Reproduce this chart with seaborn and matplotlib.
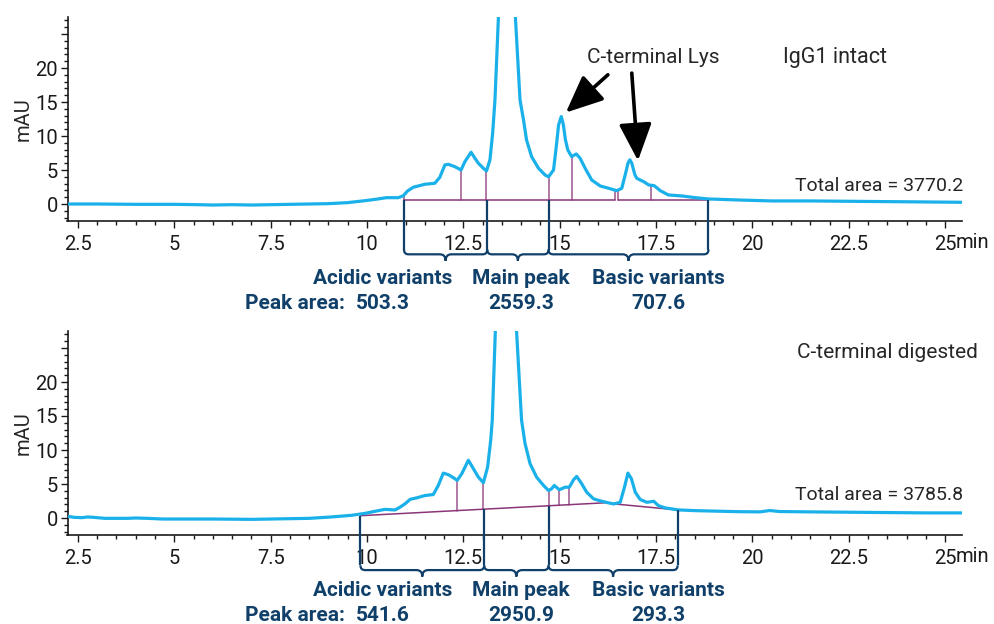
import numpy as np
import pandas as pd
import matplotlib.pyplot as plt
from matplotlib.path import Path
from matplotlib.patches import PathPatch
from matplotlib.ticker import MultipleLocator
import seaborn as sns

# ---- data (time in min, signal in mAU) ----
intact_time = [2.16, 3.0, 4.0, 5.0, 5.6, 6.0, 6.5, 7.0, 7.5, 8.0, 8.5, 9.0, 9.5, 9.95,
               10.3, 10.5, 10.81, 10.94, 11.05, 11.2, 11.33, 11.5, 11.76, 11.89, 12.02,
               12.11, 12.28, 12.44, 12.54, 12.7, 12.8, 12.89, 13.02, 13.1, 13.19, 13.26,
               13.32, 13.41, 13.5, 13.6, 13.7, 13.78, 13.85, 13.97, 14.06, 14.14, 14.27,
               14.45, 14.62, 14.71, 14.84, 14.92, 14.97, 15.04, 15.09, 15.15, 15.21, 15.31,
               15.43, 15.53, 15.66, 15.83, 16.05, 16.27, 16.48, 16.61, 16.72, 16.77, 16.82,
               16.87, 16.95, 17.0, 17.18, 17.31, 17.45, 17.61, 17.82, 18.17, 18.52, 18.86,
               19.64, 20.5, 21.5, 22.5, 23.5, 24.5, 25.45]
intact_mau = [0.0, 0.0, -0.05, -0.05, -0.1, -0.15, -0.1, -0.15, -0.1, -0.05, 0.0, 0.05, 0.2, 0.49,
              0.75, 0.93, 0.93, 1.2, 1.9, 2.46, 2.65, 2.9, 3.05, 3.93, 5.74,
              5.84, 5.49, 5.0, 6.23, 7.61, 6.73, 5.99, 5.25, 4.86, 6.48, 10.4,
              15.3, 27.5, 60.0, 95.0, 80.0, 45.0, 27.5, 15.3, 12.4, 9.4, 6.97,
              5.25, 4.27, 4.0, 5.0, 8.9, 11.6, 12.86, 11.8, 9.4, 7.95, 6.97,
              7.36, 6.72, 5.25, 3.53, 2.65, 2.31, 1.96, 2.31, 4.76, 6.0, 6.5,
              6.0, 4.3, 3.78, 3.28, 2.8, 2.7, 1.96, 1.33, 1.18, 0.93, 0.74,
              0.59, 0.45, 0.45, 0.4, 0.35, 0.3, 0.25]

digest_time = [2.16, 2.4, 2.6, 2.75, 2.9, 3.2, 3.8, 4.0, 4.3, 4.7, 5.2, 6.0, 7.0, 7.5, 8.0,
               8.5, 9.07, 9.59, 9.95, 10.29, 10.47, 10.73, 10.86, 10.99, 11.12, 11.29, 11.5,
               11.72, 11.85, 11.98, 12.11, 12.24, 12.34, 12.46, 12.63, 12.76, 12.89, 13.02,
               13.13, 13.21, 13.25, 13.33, 13.45, 13.6, 13.75, 13.88, 14.01, 14.1, 14.23,
               14.4, 14.58, 14.71, 14.79, 14.86, 14.99, 15.14, 15.25, 15.36, 15.44, 15.57,
               15.7, 15.88, 16.09, 16.27, 16.4, 16.57, 16.68, 16.77, 16.86, 16.96, 17.09,
               17.26, 17.44, 17.56, 17.74, 18.08, 18.52, 19.64, 20.2, 20.45, 20.7, 21.5,
               22.5, 23.5, 24.5, 25.45]
digest_mau = [0.3, 0.1, 0.05, 0.15, 0.1, -0.05, -0.05, 0.0, -0.05, -0.15, -0.15, -0.15, -0.2, -0.15, -0.1,
              -0.05, 0.15, 0.39, 0.68, 1.08, 1.27, 1.18, 1.6, 2.1, 2.75, 2.96, 3.3,
              3.45, 4.79, 6.6, 6.37, 5.93, 5.53, 6.52, 8.49, 7.26, 6.01, 5.19,
              7.5, 11.45, 14.4, 27.5, 70.0, 110.0, 70.0, 27.5, 14.4, 10.96, 8.0,
              6.01, 4.79, 4.04, 4.3, 4.79, 4.15, 4.53, 4.53, 5.63, 6.12, 5.04,
              3.79, 2.81, 2.46, 2.22, 2.07, 2.31, 4.53, 6.6, 5.78, 3.79, 2.71,
              2.31, 2.46, 1.82, 1.48, 1.19, 1.08, 0.93, 0.9, 1.1, 0.95, 0.9,
              0.85, 0.8, 0.75, 0.75]

# integration baselines (start t, start mAU, end t, end mAU) and drop lines
intact_baselines = [(10.96, 0.6, 16.44, 0.6), (16.52, 0.6, 18.86, 0.6)]
intact_drops = [10.96, 12.44, 13.1, 14.71, 15.31, 16.44, 16.52, 17.37]
digest_baselines = [(9.83, 0.34, 16.22, 2.25), (16.45, 2.05, 18.07, 1.18)]
digest_drops = [12.34, 13.02, 14.71, 14.99, 15.25]

# variant regions
region_names = ["Acidic variants", "Main peak", "Basic variants"]
intact_edges = [10.96, 13.12, 14.71, 18.86]
digest_edges = [9.83, 13.04, 14.71, 18.06]
intact_areas = ["503.3", "2559.3", "707.6"]
digest_areas = ["541.6", "2950.9", "293.3"]
intact_total = "Total area = 3770.2"
digest_total = "Total area = 3785.8"

TRACE = "#1ab1ea"
INTEG = "#8a357a"
NAVY = "#10406a"

sns.set_style("ticks")
plt.rcParams['font.family'] = ['Roboto', 'DejaVu Sans']
plt.rcParams['font.size'] = 14

fig = plt.figure(figsize=(9.94, 6.24), dpi=100)
W, H = 994, 624
ax1 = fig.add_axes([67.5 / W, 1 - 221 / H, 895 / W, 204 / H])
ax2 = fig.add_axes([67.5 / W, 1 - 535 / H, 895 / W, 204 / H])


def baseline_at(t, segs):
    for t0, y0, t1, y1 in segs:
        if t0 - 1e-6 <= t <= t1 + 1e-6:
            return y0 + (y1 - y0) * (t - t0) / (t1 - t0)
    return segs[0][1]


def draw_panel(ax, t, y, segs, drops, edges, areas, brace_y, label_y):
    # integration lines
    for t0, y0, t1, y1 in segs:
        ax.plot([t0, t1], [y0, y1], color=INTEG, lw=1.1, zorder=2)
    for d in drops:
        ax.plot([d, d], [baseline_at(d, segs), np.interp(d, t, y)],
                color=INTEG, lw=1.1, zorder=2, alpha=0.85)

    df = pd.DataFrame({"time": t, "mAU": y})
    sns.lineplot(data=df, x="time", y="mAU", ax=ax, color=TRACE, lw=2.3,
                 estimator=None, sort=False, zorder=3)

    # region brackets below the axis
    rx, ry, nx, nd = 0.12, 0.7, 0.15, 0.95
    for e in edges:
        ax.plot([e, e], [baseline_at(e, segs), brace_y + ry], color=NAVY,
                lw=1.6, clip_on=False, zorder=4, solid_capstyle="butt")
    for a, b in zip(edges[:-1], edges[1:]):
        m = (a + b) / 2
        verts = [(a, brace_y + ry), (a, brace_y), (a + rx, brace_y),
                 (m - nx, brace_y), (m, brace_y), (m, brace_y - nd),
                 (m, brace_y), (m + nx, brace_y),
                 (b - rx, brace_y), (b, brace_y), (b, brace_y + ry)]
        codes = [Path.MOVETO, Path.CURVE3, Path.CURVE3,
                 Path.LINETO, Path.CURVE3, Path.CURVE3,
                 Path.CURVE3, Path.CURVE3,
                 Path.LINETO, Path.CURVE3, Path.CURVE3]
        ax.add_patch(PathPatch(Path(verts, codes), fill=False, edgecolor=NAVY,
                               lw=1.6, clip_on=False, zorder=4))

    label_x = [10.41, 13.99, 17.57]
    for lx, name, area in zip(label_x, region_names, areas):
        ax.text(lx, label_y, name, ha="center", va="center", color=NAVY,
                fontsize=15, fontweight="bold", clip_on=False)
        ax.text(lx, label_y - 3.6, area, ha="center", va="center", color=NAVY,
                fontsize=15, fontweight="bold", clip_on=False)
    ax.text(9.43, label_y - 3.6, "Peak area:", ha="right", va="center",
            color=NAVY, fontsize=15, fontweight="bold", clip_on=False)

    # axes styling
    ax.set_xlim(2.23, 25.45)
    ax.set_ylim(-2.5, 27.5)
    ax.xaxis.set_minor_locator(MultipleLocator(0.5))
    ax.set_xticks([2.5, 5, 7.5, 10, 12.5, 15, 17.5, 20, 22.5, 25])
    ax.set_xticklabels(["2.5", "5", "7.5", "10", "12.5", "15", "17.5", "20", "22.5", "25"])
    ax.set_yticks([0, 5, 10, 15, 20, 25])
    ax.set_yticklabels(["0", "5", "10", "15", "20", ""])
    ax.yaxis.set_minor_locator(MultipleLocator(1))
    ax.tick_params(which="major", length=5, width=1, labelsize=14.5, colors="#1a1a1a")
    ax.tick_params(which="minor", length=2.6, width=1, colors="#1a1a1a")
    ax.tick_params(axis="x", which="major", pad=5)
    ax.tick_params(axis="y", which="major", pad=2)
    sns.despine(ax=ax)
    for s in ("left", "bottom"):
        ax.spines[s].set_linewidth(1.2)
        ax.spines[s].set_color("#1a1a1a")
    ax.set_xlabel("")
    ax.set_ylabel("mAU", fontsize=14.5, labelpad=2)
    ax.text(25.27, -5.7, "min", ha="left", va="center", fontsize=14.5,
            color="#1a1a1a", clip_on=False)


draw_panel(ax1, intact_time, intact_mau, intact_baselines, intact_drops,
           intact_edges, intact_areas, brace_y=-7.4, label_y=-11.0)
draw_panel(ax2, digest_time, digest_mau, digest_baselines, digest_drops,
           digest_edges, digest_areas, brace_y=-7.66, label_y=-10.7)

# annotations
ax1.text(17.42, 21.6, "C-terminal Lys", ha="center", va="center", fontsize=15)
ax1.text(20.79, 21.6, "IgG1 intact", ha="left", va="center", fontsize=15.5)
ax1.text(21.1, 2.65, intact_total, ha="left", va="center", fontsize=14)
ax2.text(21.15, 24.3, "C-terminal digested", ha="left", va="center", fontsize=15)
ax2.text(21.1, 3.45, digest_total, ha="left", va="center", fontsize=14)

arrow = dict(arrowstyle="-|>,head_length=0.95,head_width=0.42", color="black",
             lw=2.6, mutation_scale=24, shrinkA=0, shrinkB=0)
ax1.annotate("", xy=(15.16, 13.45), xytext=(16.25, 19.0), arrowprops=arrow)
ax1.annotate("", xy=(17.03, 6.38), xytext=(16.87, 19.25), arrowprops=arrow)

fig.savefig("out.png", dpi=100)
